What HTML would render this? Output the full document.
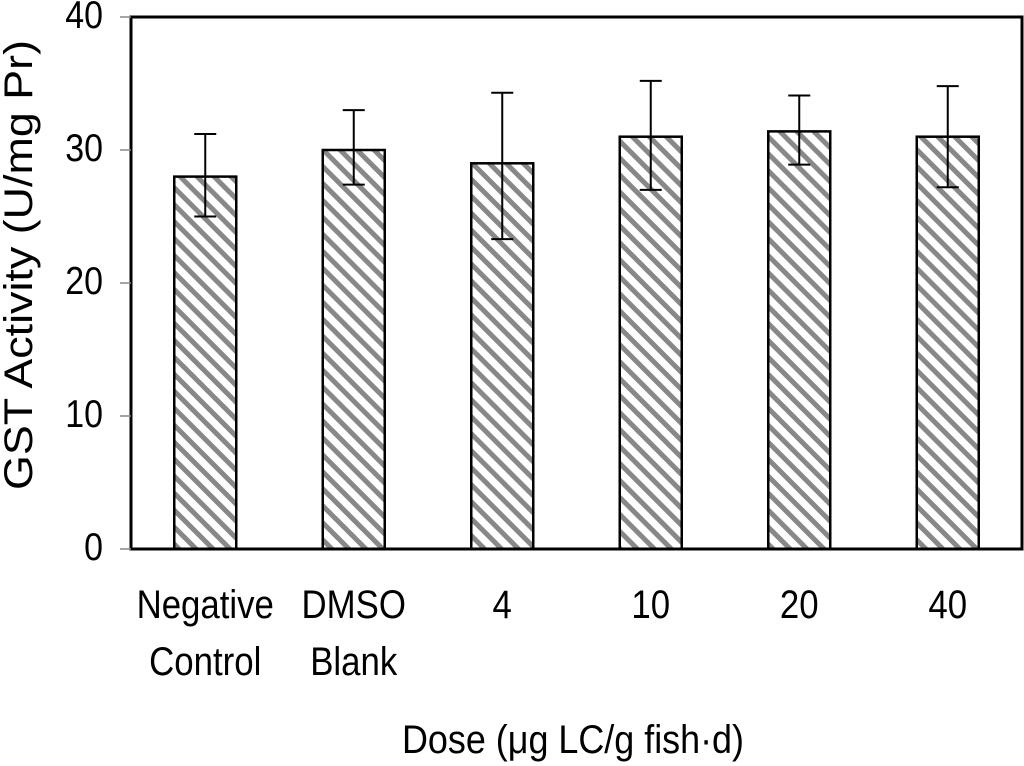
<!DOCTYPE html>
<html><head><meta charset="utf-8"><style>
body{margin:0;background:#fff}
svg{display:block}
text{font-family:"Liberation Sans",Arial,sans-serif;fill:#000}
</style></head><body>
<svg id="chart" width="1024" height="766" viewBox="0 0 1024 766">
<defs>
<pattern id="hatch" patternUnits="userSpaceOnUse" width="12" height="12" patternTransform="rotate(-45)">
<rect width="12" height="12" fill="#fff"/>
<rect x="0" y="0" width="5" height="12" fill="#888"/>
</pattern>
</defs>
<g id="bars"></g>
<rect x="131" y="17" width="891" height="532" fill="none" stroke="#000" stroke-width="3"/>
<g id="axis"></g>
<text x="32" y="265" font-size="40" text-anchor="middle" textLength="450" lengthAdjust="spacingAndGlyphs" transform="rotate(-90 32 265)">GST Activity (U/mg Pr)</text>
<text x="573" y="753" font-size="40" text-anchor="middle" textLength="342" lengthAdjust="spacingAndGlyphs">Dose (μg LC/g fish·d)</text>
</svg>
<script>
const categories=[["Negative","Control"],["DMSO","Blank"],["4"],["10"],["20"],["40"]];
const values=[28,30,29,31,31.4,31];
const errLow=[25,27.4,23.3,27,28.9,27.2];
const errHigh=[31.2,33,34.3,35.2,34.1,34.8];
const yTicks=[0,10,20,30,40];
const NS="http://www.w3.org/2000/svg";
const x0=131,x1=1022,y0=549,y1=17,yMax=40;
const band=(x1-x0)/categories.length, SX=0.87;
const ys=v=>y0-(v/yMax)*(y0-y1);
const xc=i=>x0+band*(i+0.5);
function mk(t,a,p){const e=document.createElementNS(NS,t);for(const k in a)e.setAttribute(k,a[k]);p.appendChild(e);return e;}
const bars=document.getElementById('bars'),axis=document.getElementById('axis');
values.forEach((v,i)=>{
 const b=mk('rect',{x:xc(i)-31,y:ys(v),width:62,height:y0-ys(v),fill:'url(#hatch)',stroke:'#000','stroke-width':2.5},bars);
 
 
 const g=mk('g',{stroke:'#000','stroke-width':2},bars);
 
 
 mk('line',{x1:xc(i),x2:xc(i),y1:ys(errLow[i]),y2:ys(errHigh[i])},g);
 mk('line',{x1:xc(i)-11,x2:xc(i)+11,y1:ys(errLow[i]),y2:ys(errLow[i])},g);
 mk('line',{x1:xc(i)-11,x2:xc(i)+11,y1:ys(errHigh[i]),y2:ys(errHigh[i])},g);
 categories[i].forEach((s,j)=>{
  const t=mk('text',{x:xc(i)/SX,y:618+j*57,'font-size':40,'text-anchor':'middle',transform:'scale('+SX+' 1)'},axis);
  t.textContent=s;
  
  
 });
});
yTicks.forEach(v=>{
 mk('line',{x1:x0-11,x2:x0,y1:ys(v),y2:ys(v),stroke:'#888','stroke-width':1.5},axis);
 const t=mk('text',{x:103/SX,y:ys(v)+11,'font-size':39,'text-anchor':'end',transform:'scale('+SX+' 1)'},axis);
 t.textContent=v;
 
 
});
</script>
</body></html>
